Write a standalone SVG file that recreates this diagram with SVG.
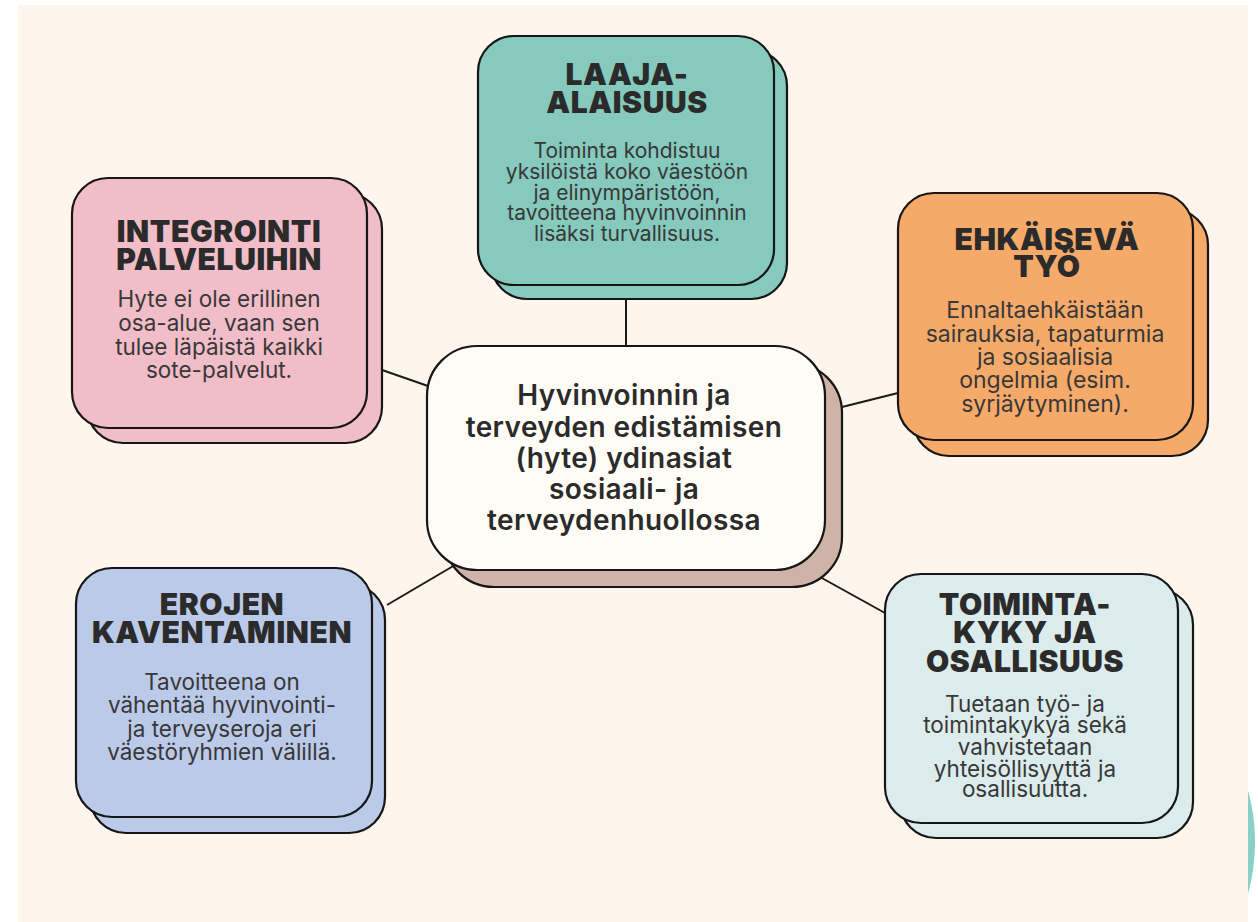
<svg xmlns="http://www.w3.org/2000/svg" width="1258" height="922" viewBox="0 0 1258 922">
<style>
.box{stroke:#161616;stroke-width:2.2}
.t{font-family:Inter,"Liberation Sans",sans-serif;font-weight:900;font-size:30px;fill:#2b2b2b;text-anchor:middle;letter-spacing:0.6px}
.b{font-family:Inter,"Liberation Sans",sans-serif;font-weight:400;fill:#383838;text-anchor:middle}
.c{font-family:Inter,"Liberation Sans",sans-serif;font-weight:600;font-size:28px;fill:#2b2b2b;text-anchor:middle;letter-spacing:0.4px}
.ln{stroke:#1a1a1a;stroke-width:2;fill:none}
</style>
<rect x="0" y="0" width="1258" height="922" fill="#ffffff"/>
<circle cx="1062" cy="842" r="193" fill="#88d0c8"/>
<rect x="18" y="5" width="1230" height="917" fill="#fef5ec"/>
<g id="connectors">
<line class="ln" x1="626" y1="299" x2="626" y2="346"/>
<line class="ln" x1="382" y1="370" x2="428" y2="386"/>
<line class="ln" x1="842" y1="407" x2="898" y2="393"/>
<line class="ln" x1="387" y1="605" x2="455" y2="565"/>
<line class="ln" x1="820" y1="577" x2="885" y2="613"/>
</g>
<g id="node-laaja-alaisuus">
<rect class="box" x="491" y="50" width="296" height="249" rx="36" fill="#86c9bd"/>
<rect class="box" x="478" y="36" width="296" height="249" rx="36" fill="#86c9bd"/>
<text class="t" x="627" y="85">LAAJA-</text>
<text class="t" x="627" y="113">ALAISUUS</text>
<text class="b" font-size="21" x="627" y="158">Toiminta kohdistuu</text>
<text class="b" font-size="21" x="627" y="179">yksilöistä koko väestöön</text>
<text class="b" font-size="21" x="627" y="200">ja elinympäristöön,</text>
<text class="b" font-size="21" x="627" y="220">tavoitteena hyvinvoinnin</text>
<text class="b" font-size="21" x="627" y="241">lisäksi turvallisuus.</text>
</g>
<g id="node-integrointi">
<rect class="box" x="87" y="193" width="295" height="250" rx="36" fill="#f1bdc8"/>
<rect class="box" x="72" y="178" width="295" height="250" rx="36" fill="#f1bdc8"/>
<text class="t" x="219" y="242">INTEGROINTI</text>
<text class="t" x="219" y="270">PALVELUIHIN</text>
<text class="b" font-size="22.5" x="219" y="307">Hyte ei ole erillinen</text>
<text class="b" font-size="22.5" x="219" y="331">osa-alue, vaan sen</text>
<text class="b" font-size="22.5" x="219" y="355">tulee läpäistä kaikki</text>
<text class="b" font-size="22.5" x="219" y="378">sote-palvelut.</text>
</g>
<g id="node-ehkaiseva">
<rect class="box" x="913" y="209" width="295" height="247" rx="36" fill="#f5aa6a"/>
<rect class="box" x="898" y="193" width="295" height="247" rx="36" fill="#f5aa6a"/>
<text class="t" x="1047" y="250">EHKÄISEVÄ</text>
<text class="t" x="1047" y="277">TYÖ</text>
<text class="b" font-size="23" x="1045" y="318">Ennaltaehkäistään</text>
<text class="b" font-size="23" x="1045" y="342">sairauksia, tapaturmia</text>
<text class="b" font-size="23" x="1045" y="365">ja sosiaalisia</text>
<text class="b" font-size="23" x="1045" y="388">ongelmia (esim.</text>
<text class="b" font-size="23" x="1045" y="412">syrjäytyminen).</text>
</g>
<g id="node-center">
<rect class="box" x="444" y="363" width="398" height="224" rx="50" fill="#cfb2a8"/>
<rect class="box" x="427" y="346" width="398" height="224" rx="50" fill="#fffcf6"/>
<text class="c" x="624" y="405">Hyvinvoinnin ja</text>
<text class="c" x="624" y="437">terveyden edistämisen</text>
<text class="c" x="624" y="468">(hyte) ydinasiat</text>
<text class="c" x="624" y="499">sosiaali- ja</text>
<text class="c" x="624" y="530">terveydenhuollossa</text>
</g>
<g id="node-erojen">
<rect class="box" x="90" y="584" width="295" height="249" rx="36" fill="#bccae9"/>
<rect class="box" x="76" y="568" width="296" height="249" rx="36" fill="#bccae9"/>
<text class="t" x="222" y="615">EROJEN</text>
<text class="t" x="222" y="643">KAVENTAMINEN</text>
<text class="b" font-size="22.5" x="222" y="690">Tavoitteena on</text>
<text class="b" font-size="22.5" x="222" y="713">vähentää hyvinvointi-</text>
<text class="b" font-size="22.5" x="222" y="737">ja terveyseroja eri</text>
<text class="b" font-size="22.5" x="222" y="760">väestöryhmien välillä.</text>
</g>
<g id="node-toimintakyky">
<rect class="box" x="900" y="589" width="293" height="249" rx="36" fill="#dcecec"/>
<rect class="box" x="885" y="574" width="293" height="249" rx="36" fill="#dcecec"/>
<text class="t" x="1025" y="615">TOIMINTA-</text>
<text class="t" x="1025" y="643">KYKY JA</text>
<text class="t" x="1025" y="672">OSALLISUUS</text>
<text class="b" font-size="22.5" x="1025" y="712">Tuetaan työ- ja</text>
<text class="b" font-size="22.5" x="1025" y="733">toimintakykyä sekä</text>
<text class="b" font-size="22.5" x="1025" y="755">vahvistetaan</text>
<text class="b" font-size="22.5" x="1025" y="777">yhteisöllisyyttä ja</text>
<text class="b" font-size="22.5" x="1025" y="797">osallisuutta.</text>
</g>
</svg>
